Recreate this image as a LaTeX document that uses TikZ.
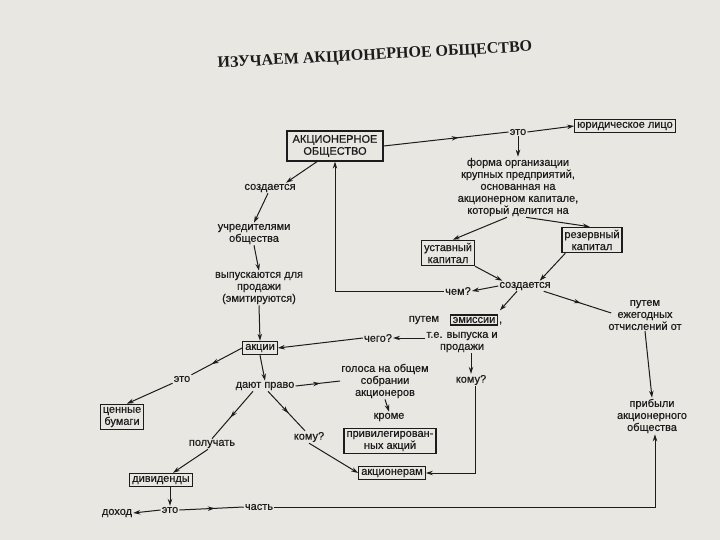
\documentclass[tikz,border=0pt]{standalone}
\usepackage{fontspec}
\setmainfont{Liberation Sans}[FakeBold=0.4]
\newfontfamily\titlefont{Liberation Serif}
\usetikzlibrary{arrows.meta,decorations.markings,calc}
\definecolor{paper}{RGB}{233,231,226}
\definecolor{ink}{RGB}{28,28,28}
\begin{document}
\begin{tikzpicture}[x=1pt,y=-1pt,
 txt/.style={align=center,inner sep=1pt,text=ink,font=\fontsize{11}{12}\selectfont},
 boxed/.style={txt,draw=ink,line width=1.3pt,inner sep=2.5pt},
 conn/.style={draw=ink,color=ink,line width=1pt},
 arr/.style={conn,-{Stealth[length=7pt,width=4.5pt]}},
 midarr/.style={conn,postaction={decorate},decoration={markings,mark=at position #1 with {\arrow{Stealth[length=7pt,width=4.5pt]}}}},
 midarr/.default=0.55]
\fill[paper] (0,0) rectangle (720,540);
\useasboundingbox (0,0) rectangle (720,540);

\node[font=\titlefont\bfseries\fontsize{16}{16}\selectfont,text=ink,rotate=3] (title) at (375,56) {ИЗУЧАЕМ АКЦИОНЕРНОЕ ОБЩЕСТВО};

\node[boxed,minimum width=96pt,minimum height=30pt] (ao) at (335,146) {АКЦИОНЕРНОЕ\\ОБЩЕСТВО};
\node[txt] (eto1) at (518,132) {это};
\node[boxed] (jur) at (625,126) {юридическое лицо};
\node[txt] (forma) at (518,187) {форма организации\\крупных предприятий,\\основанная на\\акционерном капитале,\\который делится на};
\node[boxed] (ust) at (448,253) {уставный\\капитал};
\node[boxed] (rez) at (592,240) {резервный\\капитал};
\node[txt] (sozd2) at (525,286) {создается};
\node[txt] (chem) at (458,291) {чем?};
\node[txt] (sozd1) at (270,188) {создается};
\node[txt] (uchr) at (254,234) {учредителями\\общества};
\node[txt] (vyp) at (259,288) {выпускаются для\\продажи\\(эмитируются)};
\node[boxed] (akcii) at (260,348) {акции};
\node[txt] (chego) at (378,338) {чего?};
\node[txt] (putem1) at (424,320) {путем};
\node[boxed,inner sep=2pt] (emis) at (474,320) {эмиссии};
\node[txt,anchor=base west] (comma) at (emis.base east) {,};
\node[txt] (tevyp) at (462,342) {т.е. выпуска и\\продажи};
\node[txt] (komu1) at (471,380) {кому?};
\node[boxed] (akcion) at (392,473) {акционерам};
\node[txt] (golosa) at (385,381) {голоса на общем\\собрании\\акционеров};
\node[txt] (krome) at (389,417) {кроме};
\node[boxed] (priv) at (390,441) {привилегирован-\\ных акций};
\node[txt] (dayut) at (265,386) {дают право};
\node[txt] (eto2) at (182,379) {это};
\node[boxed] (cenn) at (122,417) {ценные\\бумаги};
\node[txt] (poluch) at (212,444) {получать};
\node[txt] (komu2) at (309,437) {кому?};
\node[boxed] (divid) at (161,480) {дивиденды};
\node[txt] (eto3) at (170,510) {это};
\node[txt] (dohod) at (117,513) {доход};
\node[txt] (chast) at (259,507) {часть};
\node[txt] (putem2) at (645,315) {путем\\ежегодных\\отчислений от};
\node[txt] (pribyl) at (652,416) {прибыли\\акционерного\\общества};

\draw[midarr=0.6] (ao.east) -- (eto1.west);
\draw[arr] (eto1.east) -- (jur.west);
\draw[arr] (eto1.south) -- (forma.north);
\draw[arr] (forma.-110) -- (ust.70);
\draw[arr] (forma.-75) -- (rez.100);
\draw[arr] (ust.south east) -- ($(sozd2.north west)+(4,0)$);
\draw[arr] ($(rez.south west)+(4,0)$) -- ($(sozd2.north east)+(-12,0)$);
\draw[arr] (sozd2.west) -- (chem.east);
\draw[arr] (chem.west) -| (ao.south);
\draw[arr] ($(ao.south)+(-18,0)$) -- ($(sozd1.north)+(16,0)$);
\draw[arr] ($(sozd1.south)+(-2,0)$) -- (uchr.north);
\draw[arr] (uchr.south) -- (vyp.north);
\draw[arr] (vyp.south) -- (akcii.north);
\draw[arr] (tevyp.west |- chego.east) -- (chego.east);
\draw[arr] (chego.west) -- (akcii.east);
\draw[arr] ($(sozd2.south)+(-8,0)$) -- ($(emis.north east)+(2,-4)$);
\draw[arr] (tevyp.south -| komu1.north) -- (komu1.north);
\draw[arr] ($(komu1.south)+(4,0)$) |- (akcion.east);
\draw[arr] (akcii.south) -- (dayut.north);
\draw[midarr] (dayut.east) -- (golosa.west);
\draw[arr] (golosa.south) -- (krome.north);
\draw[midarr=0.6] (akcii.west) -- (eto2.north east);
\draw[arr] (eto2.south west) -- (cenn.70);
\draw[midarr] ($(dayut.south)+(-12,0)$) -- (poluch.north);
\draw[midarr] ($(dayut.south)+(3,0)$) -- ($(komu2.north)+(-4,0)$);
\draw[arr] (komu2.south) -- (akcion.west);
\draw[arr] ($(poluch.south)+(-4,0)$) -- ($(divid.north)+(12,0)$);
\draw[arr] (divid.south -| eto3.north) -- (eto3.north);
\draw[arr] (eto3.west) -- (dohod.east);
\draw[midarr] (eto3.east) -- (chast.west);
\draw[arr] (chast.east) -| ($(pribyl.south)+(3,0)$);
\draw[midarr] ($(sozd2.south east)+(-8,0)$) -- ($(putem2.west)+(4,-2)$);
\draw[arr] (putem2.south) -- (pribyl.north);
\end{tikzpicture}
\end{document}
